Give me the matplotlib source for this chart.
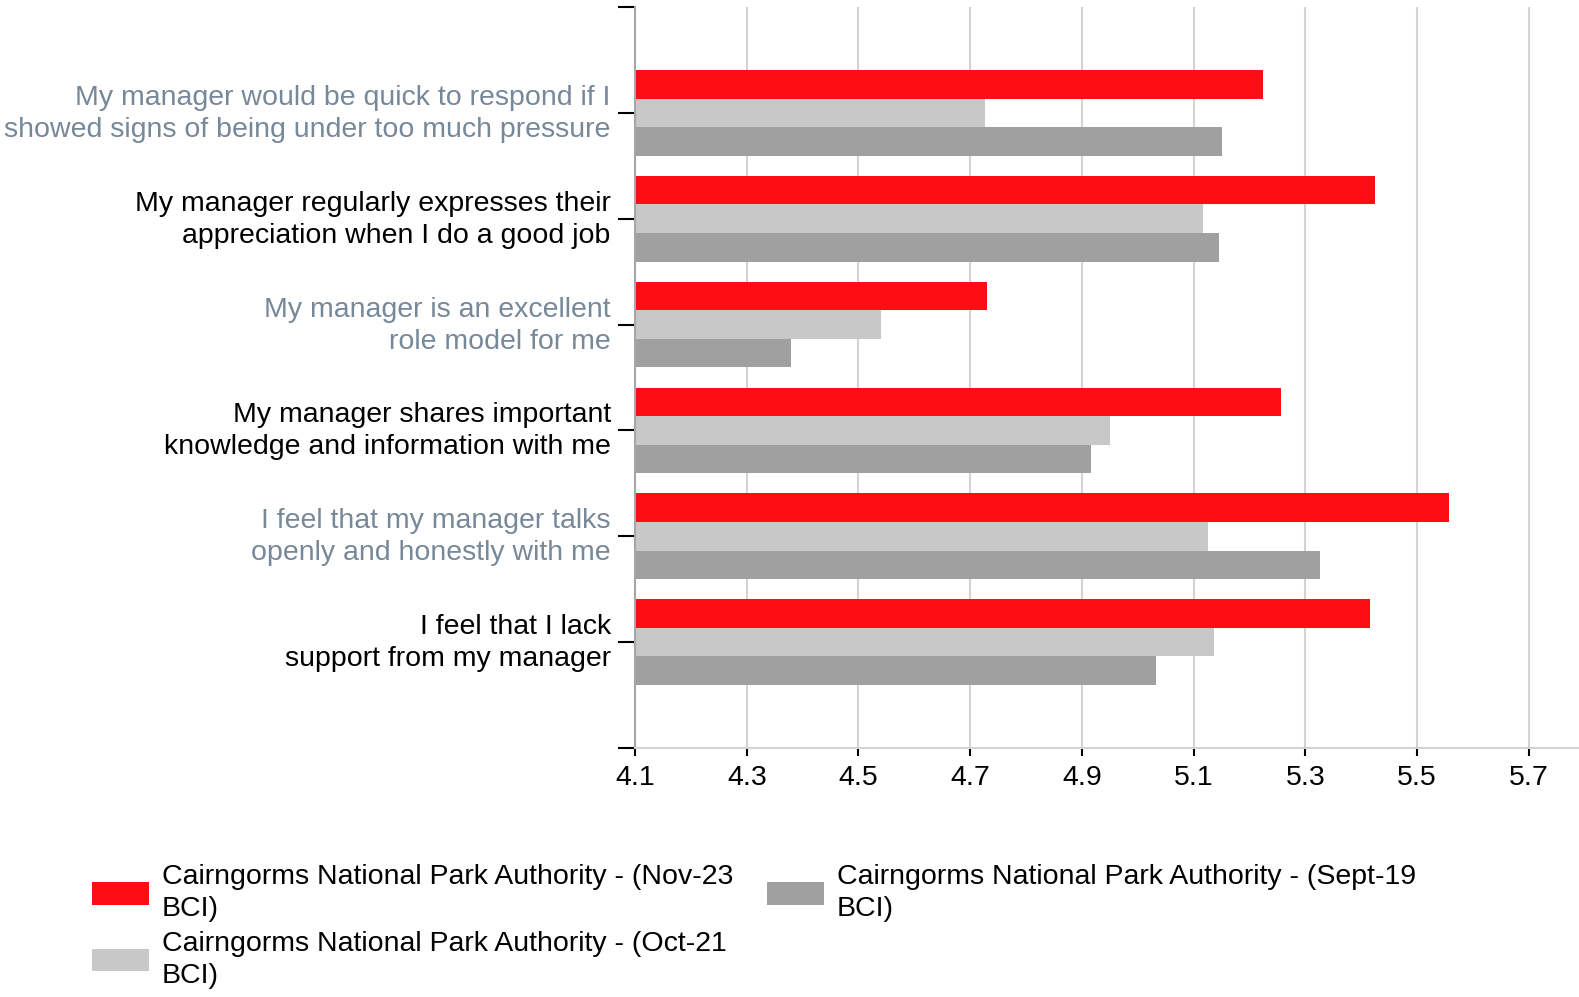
import matplotlib

matplotlib.use("Agg")
import matplotlib.pyplot as plt
import matplotlib.transforms as mtransforms
import numpy as np

plt.rcParams["font.family"] = ["Liberation Sans", "DejaVu Sans"]

statements = [
    "My manager would be quick to respond if I\nshowed signs of being under too much pressure",
    "My manager regularly expresses their\nappreciation when I do a good job",
    "My manager is an excellent\nrole model for me",
    "My manager shares important\nknowledge and information with me",
    "I feel that my manager talks\nopenly and honestly with me",
    "I feel that I lack\nsupport from my manager",
]
series_names = [
    "Cairngorms National Park Authority - (Nov-23\nBCI)",
    "Cairngorms National Park Authority - (Oct-21\nBCI)",
    "Cairngorms National Park Authority - (Sept-19\nBCI)",
]
nov23 = [5.225, 5.425, 4.73, 5.257, 5.557, 5.416]
oct21 = [4.727, 5.116, 4.54, 4.95, 5.125, 5.136]
sept19 = [5.15, 5.145, 4.38, 4.916, 5.327, 5.033]
colors = ["#FF0D14", "#C8C8C8", "#A0A0A0"]
label_colors = ["#778899", "#000000"]
xticks = [4.1, 4.3, 4.5, 4.7, 4.9, 5.1, 5.3, 5.5, 5.7]

fs = 20.5

fig = plt.figure(figsize=(15.79, 9.97), dpi=100)
ax = fig.add_axes([0.4022, 0.2497, 0.5978, 0.7433])

y = np.arange(len(statements))
h = 0.27
for k, (vals, name) in enumerate(zip([nov23, oct21, sept19], series_names)):
    ax.barh(y + (k - 1) * h, np.array(vals) - 4.1, left=4.1, height=h,
            color=colors[k], label=name, zorder=2)

ax.set_xlim(4.1, 5.79)
ax.set_ylim(6, -1)
ax.set_xticks(xticks)
ax.set_xticklabels([f"{v:.1f}" for v in xticks], fontsize=fs)
ax.grid(axis="x", color="#D3D3D3", linewidth=1.5, zorder=0)
ax.tick_params(axis="x", length=6, width=1.5, color="black", pad=6)

ax.set_yticks(list(y) + [-1, 6])
ax.set_yticklabels(statements + ["", ""], fontsize=fs, linespacing=1.3)
ax.tick_params(axis="y", length=12.5, width=1.5, color="black", pad=5)
# nudge the two-line labels up so they sit centred on the tick
shift = mtransforms.ScaledTranslation(0, 5 / 100, fig.dpi_scale_trans)
for i, lbl in enumerate(ax.get_yticklabels()[:len(statements)]):
    lbl.set_color(label_colors[i % 2])
    lbl.set_transform(lbl.get_transform() + shift)

for side in ["top", "right"]:
    ax.spines[side].set_visible(False)
ax.spines["left"].set_color("#A6A6A6")
ax.spines["left"].set_linewidth(1.5)
ax.spines["bottom"].set_color("#D3D3D3")
ax.spines["bottom"].set_linewidth(1.5)

leg = fig.legend(loc="upper left", bbox_to_anchor=(0.044, 0.156), ncol=2, frameon=False,
                 fontsize=fs, handlelength=2.0, handleheight=0.85, columnspacing=1.18,
                 labelspacing=0.3, handletextpad=0.45, borderpad=0.3)
for t in leg.get_texts():
    t.set_linespacing(1.3)

fig.savefig("out.png", dpi=100)
